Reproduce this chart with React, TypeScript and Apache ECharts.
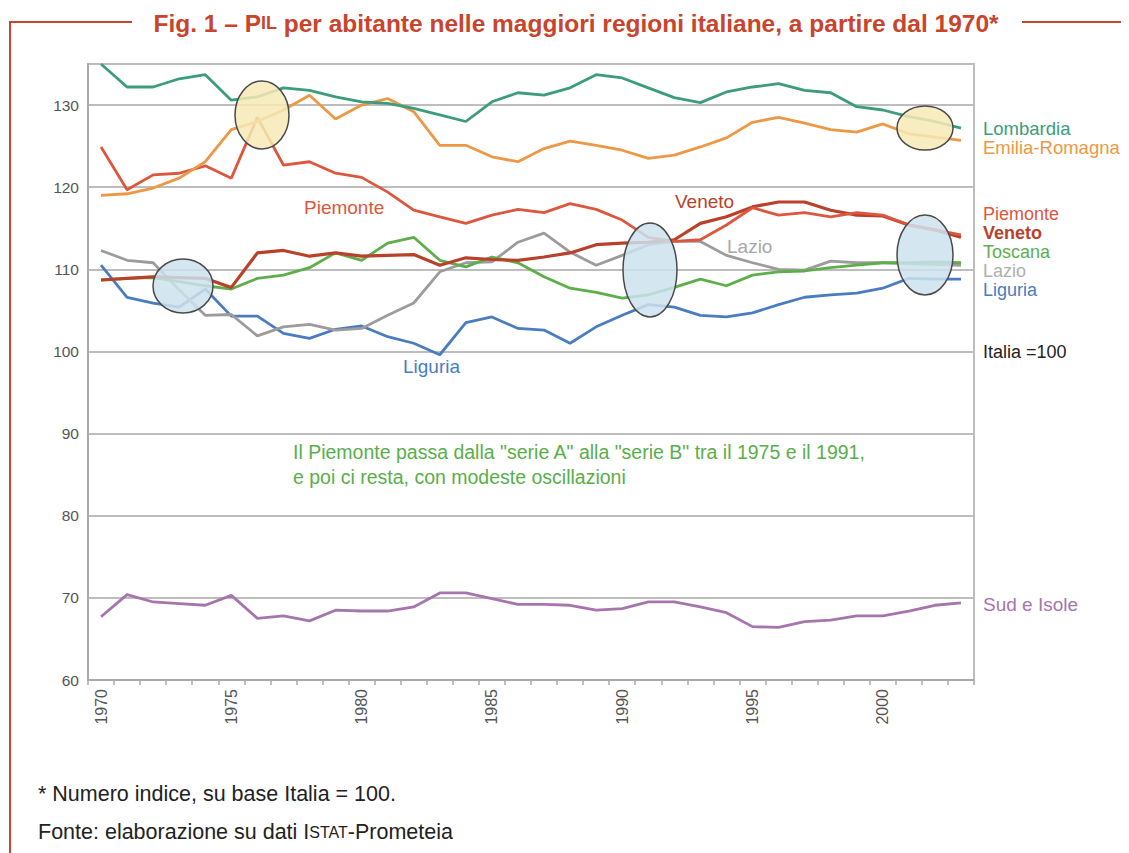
import React, { useEffect, useRef } from "react";
import * as echarts from "echarts";

const years = [
  "1970", "1971", "1972", "1973", "1974", "1975", "1976", "1977", "1978", "1979",
  "1980", "1981", "1982", "1983", "1984", "1985", "1986", "1987", "1988", "1989",
  "1990", "1991", "1992", "1993", "1994", "1995", "1996", "1997", "1998", "1999",
  "2000", "2001", "2002", "2003",
];

const lombardia = [
  135.0, 132.2, 132.2, 133.2, 133.7, 130.6, 131.0, 132.1, 131.8, 131.0,
  130.4, 130.2, 129.6, 128.8, 128.0, 130.4, 131.5, 131.2, 132.1, 133.7,
  133.3, 132.1, 130.9, 130.3, 131.6, 132.2, 132.6, 131.8, 131.5, 129.8,
  129.4, 128.6, 128.0, 127.2,
];
const emiliaRomagna = [
  119.0, 119.2, 119.9, 121.1, 123.1, 127.0, 128.0, 129.4, 131.2, 128.3,
  130.0, 130.8, 129.2, 125.1, 125.1, 123.7, 123.1, 124.7, 125.6, 125.1,
  124.5, 123.5, 123.9, 124.9, 126.0, 127.9, 128.5, 127.8, 127.0, 126.7,
  127.7, 126.5, 126.1, 125.7,
];
const piemonte = [
  124.9, 119.7, 121.5, 121.7, 122.6, 121.1, 128.5, 122.7, 123.1, 121.7,
  121.2, 119.4, 117.2, 116.4, 115.6, 116.6, 117.3, 116.9, 118.0, 117.3,
  116.0, 113.9, 113.4, 113.6, 115.4, 117.5, 116.6, 116.9, 116.4, 116.9,
  116.6, 115.4, 114.8, 114.2,
];
const veneto = [
  108.7, 108.9, 109.1, 109.0, 108.9, 107.8, 112.0, 112.3, 111.6, 112.0,
  111.6, 111.7, 111.8, 110.5, 111.4, 111.2, 111.1, 111.5, 112.0, 113.0,
  113.2, 113.3, 113.6, 115.6, 116.4, 117.6, 118.2, 118.2, 117.2, 116.6,
  116.5, 115.4, 114.8, 113.9,
];
const toscana = [
  108.7, 108.9, 109.0, 108.5, 108.0, 107.6, 108.9, 109.3, 110.2, 112.0,
  111.1, 113.2, 113.9, 111.1, 110.3, 111.5, 110.8, 109.1, 107.7, 107.2,
  106.5, 106.9, 107.8, 108.8, 108.0, 109.3, 109.7, 109.8, 110.2, 110.5,
  110.8, 110.8, 110.9, 110.8,
];
const lazio = [
  112.3, 111.1, 110.8, 107.5, 104.4, 104.5, 101.9, 103.0, 103.3, 102.6,
  102.8, 104.4, 105.9, 109.7, 110.8, 110.9, 113.3, 114.4, 112.1, 110.5,
  111.7, 113.0, 113.4, 113.4, 111.7, 110.8, 110.0, 109.9, 111.0, 110.8,
  110.8, 110.7, 110.6, 110.5,
];
const liguria = [
  110.5, 106.6, 105.9, 105.4, 107.6, 104.3, 104.3, 102.2, 101.6, 102.7,
  103.1, 101.8, 101.0, 99.6, 103.5, 104.2, 102.8, 102.6, 101.0, 103.0,
  104.4, 105.7, 105.4, 104.4, 104.2, 104.7, 105.7, 106.6, 106.9, 107.1,
  107.7, 108.9, 108.8, 108.8,
];
const sudIsole = [
  67.7, 70.4, 69.5, 69.3, 69.1, 70.3, 67.5, 67.8, 67.2, 68.5,
  68.4, 68.4, 68.9, 70.6, 70.6, 69.9, 69.2, 69.2, 69.1, 68.5,
  68.7, 69.5, 69.5, 68.9, 68.2, 66.5, 66.4, 67.1, 67.3, 67.8,
  67.8, 68.4, 69.1, 69.4,
];

const yMin = 60;
const yMax = 135;
const yStep = 10;

const COLORS = {
  lombardia: "#3c9c7c",
  emilia: "#ec9844",
  piemonte: "#dc573d",
  veneto: "#b9412a",
  toscana: "#5eae4c",
  lazio: "#9c9c9c",
  liguria: "#4a7cc2",
  sud: "#a675ae",
};

const FONT = "'Liberation Sans', Arial, Helvetica, sans-serif";
const RED = "#c9442c";

function txt(
  text: string,
  x: number,
  y: number,
  fill: string,
  size = 19,
  weight: string = "normal",
  align = "left"
) {
  return {
    type: "text",
    x,
    y,
    z: 100,
    style: {
      text,
      fill,
      fontSize: size,
      fontWeight: weight,
      fontFamily: FONT,
      textAlign: align,
      textVerticalAlign: "middle",
      align,
      verticalAlign: "middle",
    },
  };
}

function ell(cx: number, cy: number, rx: number, ry: number, fill: string) {
  return {
    type: "ellipse",
    z: 90,
    shape: { cx, cy, rx, ry },
    style: { fill, stroke: "#4a4a4a", lineWidth: 1.5 },
  };
}

export default function App() {
  const ref = useRef<HTMLDivElement>(null);

  useEffect(() => {
    const chart = echarts.init(ref.current!, null, { renderer: "svg" });

    const line = (name: string, data: number[], color: string, width = 2.8) => ({
      name,
      type: "line",
      data,
      symbol: "none",
      smooth: false,
      lineStyle: { color, width },
      itemStyle: { color },
      z: 3,
    });

    const yellow = "rgba(246,234,182,0.85)";
    const blue = "rgba(205,226,236,0.85)";

    chart.setOption({
      animation: false,
      backgroundColor: "#ffffff",
      grid: {
        left: 88,
        right: 155,
        top: 64,
        bottom: 173,
        show: true,
        borderColor: "#bdbdbd",
        borderWidth: 2,
        backgroundColor: "transparent",
      },
      xAxis: {
        type: "category",
        data: years,
        boundaryGap: true,
        axisLine: { lineStyle: { color: "#aaaaaa", width: 2 } },
        axisTick: {
          show: true,
          interval: 0,
          length: 5,
          lineStyle: { color: "#aaaaaa", width: 1.5 },
        },
        axisLabel: {
          interval: 4,
          rotate: 90,
          margin: 9,
          color: "#555555",
          fontSize: 16,
          fontFamily: FONT,
        },
        splitLine: { show: false },
      },
      yAxis: {
        type: "value",
        min: yMin,
        max: yMax,
        interval: yStep,
        axisLine: { show: true, lineStyle: { color: "#aaaaaa", width: 2 } },
        axisTick: { show: false },
        axisLabel: {
          color: "#555555",
          fontSize: 15.5,
          fontFamily: FONT,
          margin: 9,
          showMaxLabel: false,
          formatter: (v: number) => (v % 10 === 0 ? String(v) : ""),
        },
        splitLine: { show: true, lineStyle: { color: "#bdbdbd", width: 2 } },
      },
      series: [
        line("Sud e Isole", sudIsole, COLORS.sud),
        line("Liguria", liguria, COLORS.liguria),
        line("Lazio", lazio, COLORS.lazio),
        line("Toscana", toscana, COLORS.toscana),
        line("Veneto", veneto, COLORS.veneto, 3.2),
        line("Piemonte", piemonte, COLORS.piemonte),
        line("Emilia-Romagna", emiliaRomagna, COLORS.emilia),
        line("Lombardia", lombardia, COLORS.lombardia),
      ],
      graphic: [
        // frame lines
        { type: "line", z: 100, shape: { x1: 10, y1: 22, x2: 132, y2: 22 }, style: { stroke: RED, lineWidth: 2 } },
        { type: "line", z: 100, shape: { x1: 10, y1: 21, x2: 10, y2: 853 }, style: { stroke: RED, lineWidth: 2 } },
        { type: "line", z: 100, shape: { x1: 1022, y1: 22, x2: 1121, y2: 22 }, style: { stroke: RED, lineWidth: 2 } },
        {
          type: "text",
          x: 576,
          y: 23,
          z: 100,
          style: {
            text: "{a|Fig. 1 – P}{b|IL}{a| per abitante nelle maggiori regioni italiane, a partire dal 1970*}",
            textAlign: "center",
            textVerticalAlign: "middle",
            align: "center",
            verticalAlign: "middle",
            rich: {
              a: { fontSize: 24.5, fontWeight: "bold", fill: RED, fontFamily: FONT },
              b: { fontSize: 18, fontWeight: "bold", fill: RED, fontFamily: FONT },
            },
          },
        },
        // ellipses
        ell(262, 115, 27, 34, yellow),
        ell(925, 128, 28, 22, yellow),
        ell(183, 286, 30, 27, blue),
        ell(650, 270, 27, 47, blue),
        ell(925, 255, 28, 40, blue),
        // in-plot labels
        txt("Piemonte", 304, 207, COLORS.piemonte, 19),
        txt("Veneto", 675, 201, COLORS.veneto, 19),
        txt("Lazio", 727, 246, "#a8a8a8", 19),
        txt("Liguria", 403, 366, COLORS.liguria, 19),
        txt('Il Piemonte passa dalla "serie A" alla "serie B" tra il 1975 e il 1991,', 293, 452, "#5aae4a", 19.5),
        txt("e poi ci resta, con modeste oscillazioni", 293, 477, "#5aae4a", 19.5),
        // right labels
        txt("Lombardia", 983, 128, COLORS.lombardia, 18.5),
        txt("Emilia-Romagna", 983, 147, COLORS.emilia, 18.5),
        txt("Piemonte", 983, 214, COLORS.piemonte, 18),
        txt("Veneto", 983, 233, COLORS.veneto, 18, "bold"),
        txt("Toscana", 983, 252, COLORS.toscana, 18),
        txt("Lazio", 983, 271, "#b0b0b0", 18),
        txt("Liguria", 983, 290, COLORS.liguria, 18),
        txt("Italia =100", 983, 352, "#222222", 18),
        txt("Sud e Isole", 983, 604, COLORS.sud, 19),
        // footnotes
        txt("* Numero indice, su base Italia = 100.", 38, 794, "#222222", 21.5),
        {
          type: "text",
          x: 38,
          y: 832,
          z: 100,
          style: {
            text: "{a|Fonte: elaborazione su dati I}{b|STAT}{a|-Prometeia}",
            textVerticalAlign: "middle",
            verticalAlign: "middle",
            rich: {
              a: { fontSize: 21.5, fill: "#222222", fontFamily: FONT },
              b: { fontSize: 16, fill: "#222222", fontFamily: FONT },
            },
          },
        },
      ],
    });

    return () => chart.dispose();
  }, []);

  return (
    <div
      ref={ref}
      style={{ position: "absolute", left: 0, top: 0, width: 1129, height: 853 }}
    />
  );
}
